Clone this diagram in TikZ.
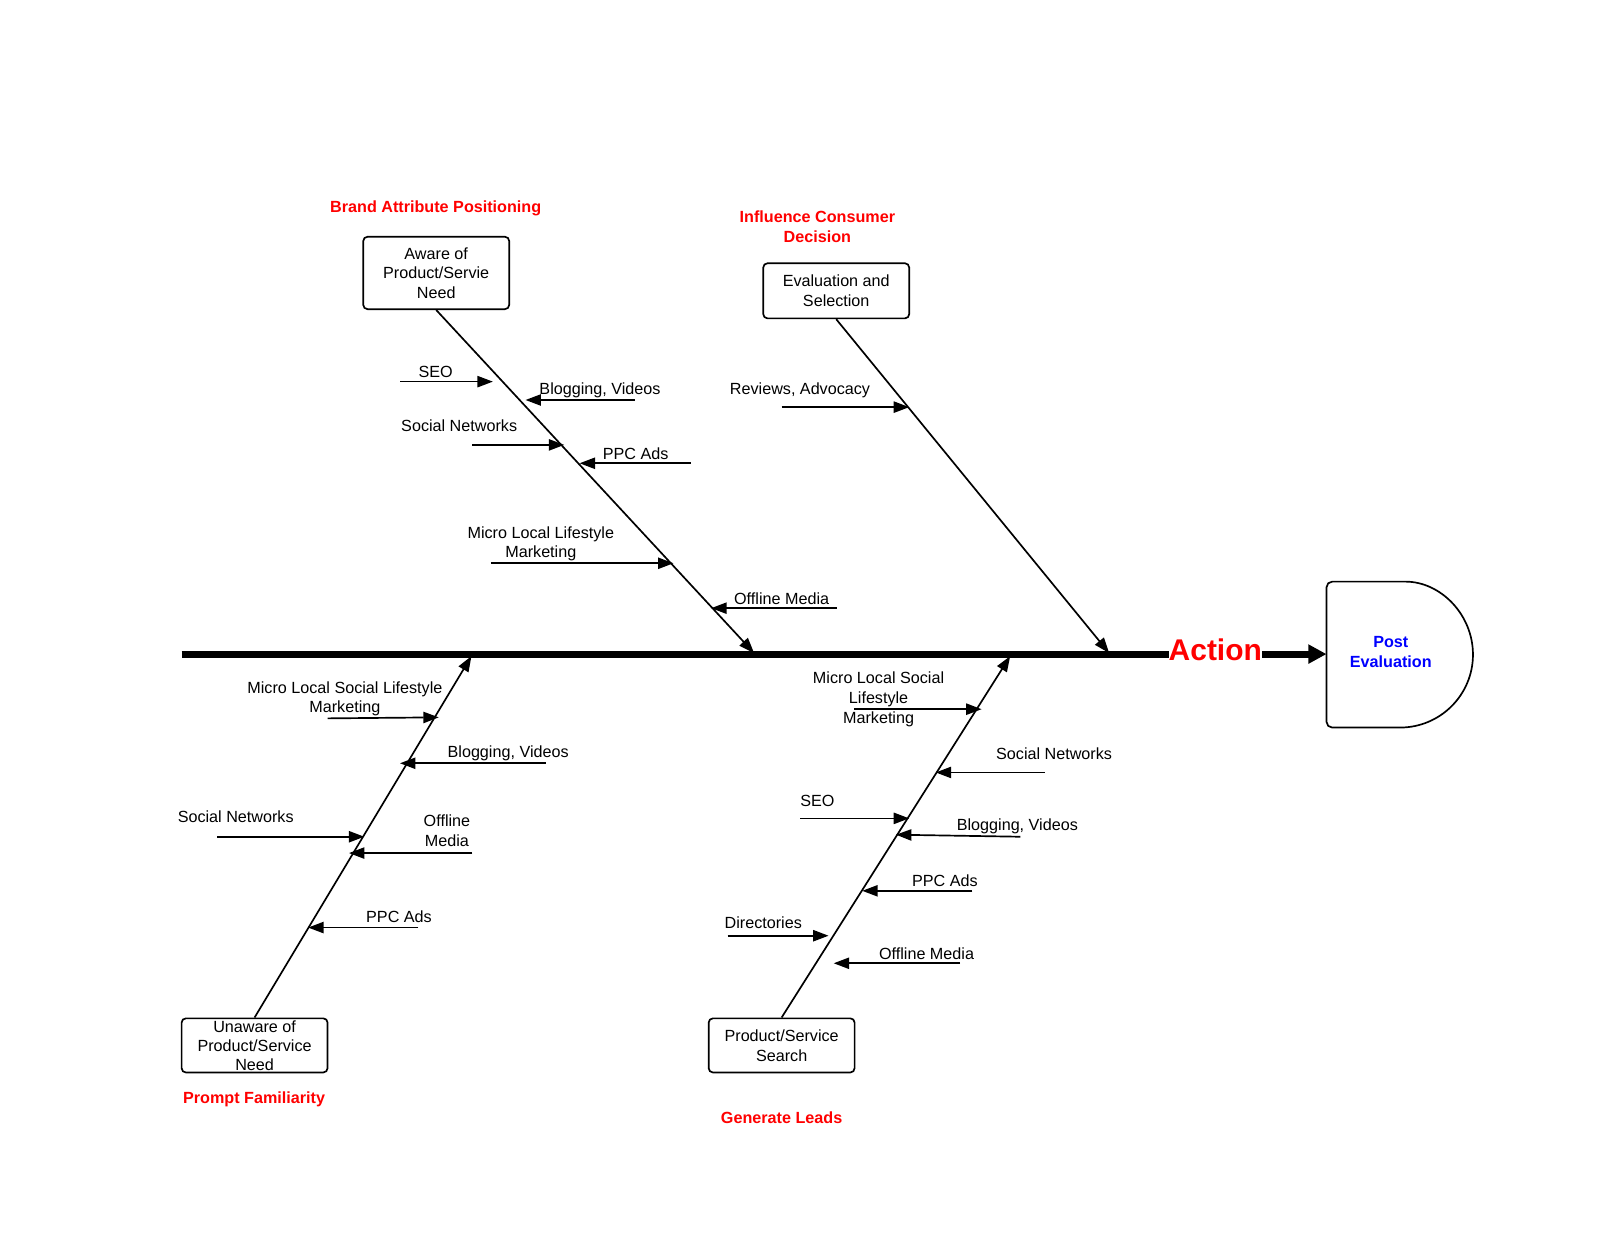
\documentclass[tikz,border=0pt]{standalone}
\usepackage{fontspec}
\setmainfont{Liberation Sans}
\usetikzlibrary{arrows.meta}

\begin{document}
\begin{tikzpicture}[x=0.02551cm,y=-0.02551cm,
	lbl/.style={font=\fontsize{11.5}{14}\selectfont,align=center,inner sep=0pt,yshift=-1pt},
	head/.style={font=\fontsize{11.5}{14}\selectfont\bfseries,text=red,align=center,inner sep=0pt,yshift=-1pt},
	box/.style={draw,line width=1.2pt,rounded corners=3pt,align=center,font=\fontsize{11.5}{14}\selectfont,minimum width=103.8pt,inner sep=0pt},
	bone/.style={line width=1.2pt,-{Triangle[length=11pt,width=8pt]}},
	feed/.style={line width=1.2pt,-{Triangle[length=11pt,width=8pt]}},
	spine/.style={line width=5pt,-{Triangle[length=13pt,width=13pt]}}]
	\useasboundingbox (0,0) rectangle (1568,1212);

	% main spine
	\coordinate (spineS) at (178,641);
	\coordinate (postin) at (1300,641);
	\draw[spine] (spineS) -- (postin);
	\node[font=\fontsize{21.3}{24}\selectfont\bfseries,text=red,fill=white,inner xsep=0pt,inner ysep=2pt] (action) at (1191,637) {Action};

	% post evaluation
	\draw[line width=1.2pt,rounded corners=4pt] (1372,713) -- (1300,713) -- (1300,570) -- (1372,570) [sharp corners] arc[start angle=-90,end angle=90,radius=71.5];
	\node[font=\fontsize{11.5}{14}\selectfont\bfseries,text=blue,align=center] (post) at (1363,639) {Post\\Evaluation};

	% top left bone
	\node[head] (brand) at (427,203) {Brand Attribute Positioning};
	\node[box,minimum height=51.5pt] (aware) at (427.5,267.5) {Aware of\\Product/Servie\\Need};
	\coordinate (tip1) at (739,640);
	\draw[bone] (aware.south) -- (tip1);

	\coordinate (a1s) at (392,374); \coordinate (a1e) at (483,374);
	\draw[feed] (a1s) -- (a1e);
	\node[lbl] (seo1) at (427,363) {SEO};
	\coordinate (a2s) at (622,392); \coordinate (a2e) at (515,392);
	\draw[feed] (a2s) -- (a2e);
	\node[lbl] (blog1) at (588,381) {Blogging, Videos};
	\coordinate (a3s) at (463,436); \coordinate (a3e) at (553,436);
	\draw[feed] (a3s) -- (a3e);
	\node[lbl] (soc1) at (450,416) {Social Networks};
	\coordinate (a4s) at (677,454); \coordinate (a4e) at (568,454);
	\draw[feed] (a4s) -- (a4e);
	\node[lbl] (ppc1) at (623,443) {PPC Ads};
	\coordinate (a5s) at (481,552); \coordinate (a5e) at (660,552);
	\draw[feed] (a5s) -- (a5e);
	\node[lbl] (micro1) at (530,531.5) {Micro Local Lifestyle\\Marketing};
	\coordinate (a6s) at (820,596); \coordinate (a6e) at (697,596);
	\draw[feed] (a6s) -- (a6e);
	\node[lbl] (off1) at (766,585) {Offline Media};

	% top right bone
	\node[head] (influence) at (801,220.5) {Influence Consumer\\Decision};
	\node[box,minimum height=39.2pt] (evalsel) at (819.5,285) {Evaluation and\\Selection};
	\coordinate (tip2) at (1087,640);
	\draw[bone] (evalsel.south) -- (tip2);

	\coordinate (b1s) at (766,399); \coordinate (b1e) at (891,399);
	\draw[feed] (b1s) -- (b1e);
	\node[lbl] (rev) at (784,381) {Reviews, Advocacy};

	% bottom left bone
	\node[head] (prompt) at (249,1076) {Prompt Familiarity};
	\node[box,minimum height=38.5pt,font=\fontsize{11.5}{13.6}\selectfont] (unaware) at (249.5,1024.5) {Unaware of\\Product/Service\\Need};
	\coordinate (tip3) at (462,643);
	\draw[bone] (unaware.north) -- (tip3);

	\coordinate (c1s) at (321,704); \coordinate (c1e) at (430,703);
	\draw[feed] (c1s) -- (c1e);
	\node[lbl] (micro2) at (338,683.5) {Micro Local Social Lifestyle\\Marketing};
	\coordinate (c2s) at (535,748); \coordinate (c2e) at (392,748);
	\draw[feed] (c2s) -- (c2e);
	\node[lbl] (blog2) at (498,737) {Blogging, Videos};
	\coordinate (c3s) at (213,820); \coordinate (c3e) at (357,820);
	\draw[feed] (c3s) -- (c3e);
	\node[lbl] (soc2) at (231,799) {Social Networks};
	\coordinate (c4s) at (463,836); \coordinate (c4e) at (342,836);
	\draw[feed] (c4s) -- (c4e);
	\node[lbl] (off2) at (438,812.5) {Offline\\Media};
	\coordinate (c5s) at (410,909); \coordinate (c5e) at (302,909);
	\draw[feed] (c5s) -- (c5e);
	\node[lbl] (ppc2) at (391,897) {PPC Ads};

	% bottom right bone
	\node[head] (leads) at (766,1094) {Generate Leads};
	\node[box,minimum height=38.5pt] (search) at (766,1024.5) {Product/Service\\Search};
	\coordinate (tip4) at (990,643);
	\draw[bone] (search.north) -- (tip4);

	\coordinate (d1s) at (837,695); \coordinate (d1e) at (962,695);
	\draw[feed] (d1s) -- (d1e);
	\node[lbl] (micro3) at (861,684) {Micro Local Social\\Lifestyle\\Marketing};
	\coordinate (d2s) at (1024,757); \coordinate (d2e) at (917,757);
	\draw[feed] (d2s) -- (d2e);
	\node[lbl] (soc3) at (1033,737) {Social Networks};
	\coordinate (d3s) at (784,802); \coordinate (d3e) at (891,802);
	\draw[feed] (d3s) -- (d3e);
	\node[lbl] (seo3) at (801,784) {SEO};
	\coordinate (d4s) at (1000,820); \coordinate (d4e) at (878,818);
	\draw[feed] (d4s) -- (d4e);
	\node[lbl] (blog3) at (997,808) {Blogging, Videos};
	\coordinate (d5s) at (953,873); \coordinate (d5e) at (845,873);
	\draw[feed] (d5s) -- (d5e);
	\node[lbl] (ppc3) at (926,862) {PPC Ads};
	\coordinate (d6s) at (713,917); \coordinate (d6e) at (812,917);
	\draw[feed] (d6s) -- (d6e);
	\node[lbl] (dir3) at (748,903) {Directories};
	\coordinate (d7s) at (941,944); \coordinate (d7e) at (817,944);
	\draw[feed] (d7s) -- (d7e);
	\node[lbl] (off3) at (908,933) {Offline Media};
\end{tikzpicture}
\end{document}
